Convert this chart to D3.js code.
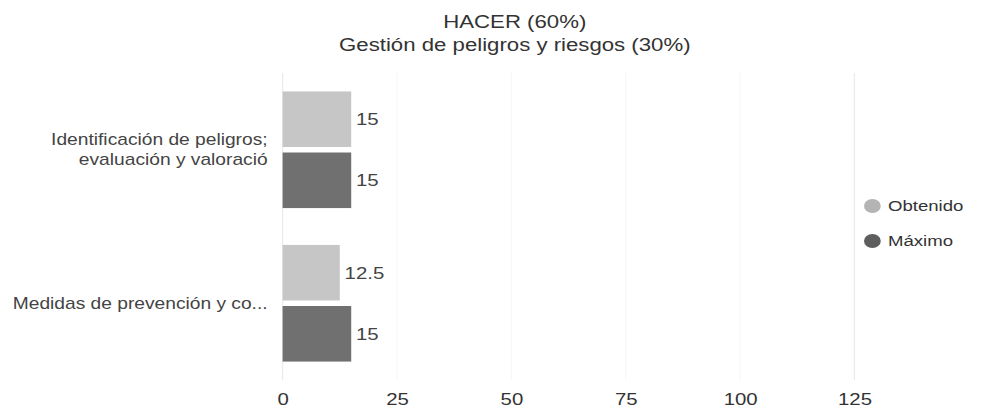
<!DOCTYPE html>
<html>
<head>
<meta charset="utf-8">
<script src="https://cdn.jsdelivr.net/npm/d3@7"></script>
<style>
  html, body { margin: 0; padding: 0; background: #fff; }
  svg { display: block; font-family: "Liberation Sans", Arial, sans-serif; }
</style>
</head>
<body>
<div id="chart"></div>
<script>
// datos del gráfico
const categorias = [
    ["Identificación de peligros;", "evaluación y valoració"],
    ["Medidas de prevención y co..."]
];
const series = ["Obtenido", "Máximo"];
const obtenido = [15, 12.5];
const maximo = [15, 15];
const ticksX = [0, 25, 50, 75, 100, 125];
const titulo = ["HACER (60%)", "Gestión de peligros y riesgos (30%)"];

const colores = { "Obtenido": "#c6c6c6", "Máximo": "#707070" };
const coloresLeyenda = { "Obtenido": "#b4b4b4", "Máximo": "#5e5e5e" };
const fuenteNum = "'Liberation Sans Narrow', 'Arial Narrow', sans-serif";

// el original esta estirado en horizontal, se dibuja en 820 y se escala a 984
const W = 820, H = 416;
const svg = d3.select("#chart").append("svg")
    .attr("width", 984)
    .attr("height", H)
    .attr("viewBox", `0 0 ${W} ${H}`)
    .attr("preserveAspectRatio", "none");

const area = { left: 235.5, right: 712, top: 73, bottom: 380 };

const x = d3.scaleLinear()
    .domain([0, 125])
    .range([area.left, area.right]);

const y = d3.scaleBand()
    .domain(d3.range(categorias.length))
    .range([area.top, area.bottom])
    .paddingInner(0.24)
    .paddingOuter(0.12);

const ySerie = d3.scaleBand()
    .domain(series)
    .range([0, y.bandwidth()])
    .paddingInner(0.09);

// lineas de guia (casi invisibles en el original)
svg.append("g")
    .selectAll("line")
    .data(ticksX)
    .enter()
    .append("line")
    .attr("x1", d => x(d))
    .attr("x2", d => x(d))
    .attr("y1", area.top)
    .attr("y2", area.bottom)
    .attr("stroke", d => (d === 0 || d === 125) ? "#ebebeb" : "#f7f7f7")
    .attr("stroke-width", 1);

// titulo
svg.append("text")
    .attr("x", 429)
    .attr("y", 22)
    .attr("text-anchor", "middle")
    .style("font-size", "18.5px")
    .style("fill", "#333")
    .selectAll("tspan")
    .data(titulo)
    .enter()
    .append("tspan")
    .attr("x", 429)
    .attr("dy", (d, i) => i === 0 ? "0.35em" : "1.2em")
    .text(d => d);

// barras
const datos = categorias.map((c, i) => ({
    idx: i,
    valores: [
        { serie: "Obtenido", valor: obtenido[i] },
        { serie: "Máximo", valor: maximo[i] }
    ]
}));

const grupos = svg.selectAll(".grupo")
    .data(datos)
    .enter()
    .append("g")
    .attr("class", "grupo")
    .attr("transform", d => `translate(0,${y(d.idx)})`);

grupos.selectAll("rect")
    .data(d => d.valores)
    .enter()
    .append("rect")
    .attr("x", x(0))
    .attr("y", d => ySerie(d.serie))
    .attr("width", d => x(d.valor) - x(0))
    .attr("height", ySerie.bandwidth())
    .attr("fill", d => colores[d.serie]);

grupos.selectAll(".valor")
    .data(d => d.valores)
    .enter()
    .append("text")
    .attr("class", "valor")
    .attr("x", d => x(d.valor) + 4)
    .attr("y", d => ySerie(d.serie) + ySerie.bandwidth() / 2)
    .attr("dy", "0.35em")
    .style("font-family", fuenteNum)
    .style("font-size", "17px")
    .style("fill", "#444")
    .text(d => d3.format("")(d.valor));

// etiquetas de categoria
svg.selectAll(".cat")
    .data(categorias)
    .enter()
    .append("text")
    .attr("class", "cat")
    .attr("text-anchor", "end")
    .attr("y", (d, i) => y(i) + y.bandwidth() / 2)
    .style("font-size", "16px")
    .style("fill", "#444")
    .each(function(lineas) {
        const t = d3.select(this);
        const off = -(lineas.length - 1) / 2 * 1.25;
        lineas.forEach((l, j) => {
            t.append("tspan")
                .attr("x", 223)
                .attr("dy", j === 0 ? `${off + 0.35}em` : "1.25em")
                .text(l);
        });
    });

// eje x
const ejeX = svg.append("g")
    .attr("transform", `translate(0,${area.bottom})`)
    .call(d3.axisBottom(x).tickValues(ticksX).tickSize(0).tickPadding(13));
ejeX.select(".domain").remove();
ejeX.selectAll("text")
    .style("font-family", fuenteNum)
    .style("font-size", "17px")
    .style("fill", "#333");

// leyenda
const leyenda = svg.append("g")
    .selectAll("g")
    .data(series)
    .enter()
    .append("g")
    .attr("transform", (d, i) => `translate(727,${206 + i * 35})`);

leyenda.append("circle")
    .attr("r", 7)
    .attr("fill", d => coloresLeyenda[d]);

leyenda.append("text")
    .attr("x", 13)
    .attr("dy", "0.35em")
    .style("font-size", "15.5px")
    .style("fill", "#333")
    .text(d => d);
</script>
</body>
</html>
